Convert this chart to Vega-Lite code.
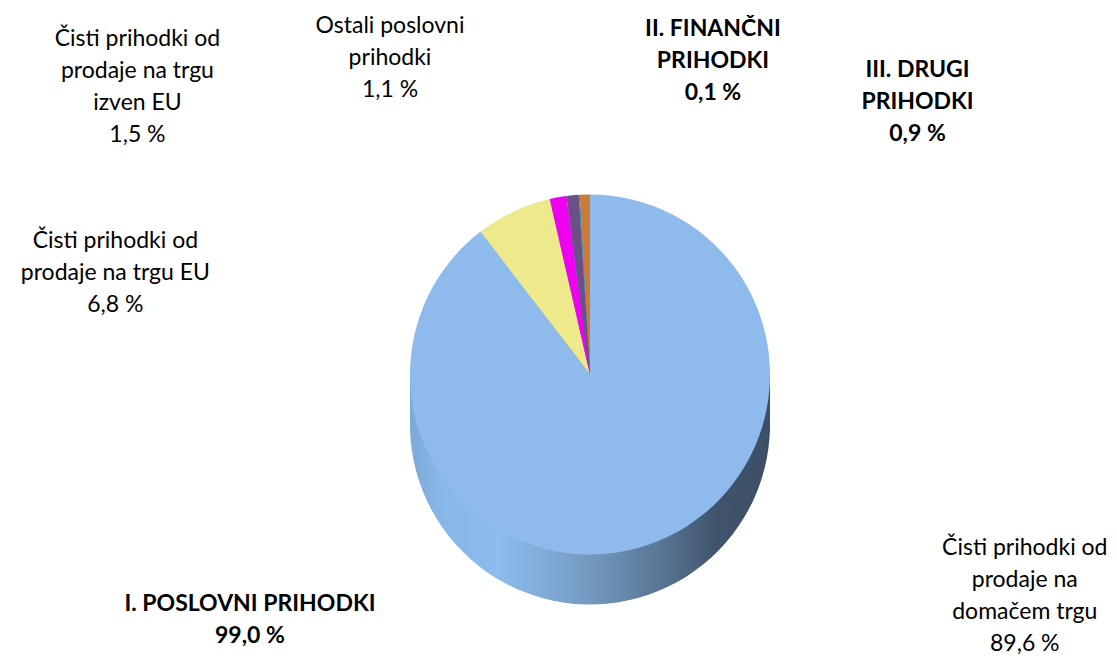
{
  "$schema": "https://vega.github.io/schema/vega-lite/v6.json",
  "width": 1117,
  "height": 656,
  "padding": 0,
  "autosize": {"type": "fit", "contains": "padding"},
  "background": "white",
  "config": {"view": {"stroke": null}, "font": "Lato"},
  "datasets": {
    "slices": [
      {"name": "Čisti prihodki od prodaje na domačem trgu", "value": 89.6, "idx": 1, "label": "Čisti prihodki od\nprodaje na\ndomačem trgu\n89,6 %"},
      {"name": "Čisti prihodki od prodaje na trgu EU", "value": 6.8, "idx": 2, "label": "Čisti prihodki od\nprodaje na trgu EU\n6,8 %"},
      {"name": "Čisti prihodki od prodaje na trgu izven EU", "value": 1.5, "idx": 3, "label": "Čisti prihodki od\nprodaje na trgu\nizven EU\n1,5 %"},
      {"name": "Ostali poslovni prihodki", "value": 1.1, "idx": 4, "label": "Ostali poslovni\nprihodki\n1,1 %"},
      {"name": "II. FINANČNI PRIHODKI", "value": 0.1, "idx": 5, "label": "II. FINANČNI\nPRIHODKI\n0,1 %"},
      {"name": "III. DRUGI PRIHODKI", "value": 0.9, "idx": 6, "label": "III. DRUGI\nPRIHODKI\n0,9 %"}
    ],
    "groups": [
      {"group": "I. POSLOVNI PRIHODKI", "value": 99.0, "idx": 1, "label": "I. POSLOVNI PRIHODKI\n99,0 %"},
      {"group": "II. FINANČNI PRIHODKI", "value": 0.1, "idx": 2, "label": "II. FINANČNI\nPRIHODKI\n0,1 %"},
      {"group": "III. DRUGI PRIHODKI", "value": 0.9, "idx": 3, "label": "III. DRUGI\nPRIHODKI\n0,9 %"}
    ]
  },
  "layer": [
    {
      "data": {"name": "slices"},
      "mark": {"type": "arc", "radius": 180, "xOffset": 31.5, "yOffset": 97, "stroke": null,
        "fill": {"gradient": "linear", "x1": 0, "x2": 1, "y1": 0, "y2": 0,
          "stops": [{"offset": 0, "color": "#7CAAD6"}, {"offset": 0.08, "color": "#88B7E7"}, {"offset": 0.25, "color": "#8CBCEC"}, {"offset": 0.5, "color": "#7399C0"}, {"offset": 0.7, "color": "#587593"}, {"offset": 0.85, "color": "#40546C"}, {"offset": 1, "color": "#3C4F66"}]}},
      "encoding": {"theta": {"field": "value", "type": "quantitative", "stack": true}, "order": {"field": "idx"}, "detail": {"field": "name"}}
    },
    {
      "data": {"name": "slices"},
      "mark": {"type": "arc", "radius": 180, "xOffset": 31.5, "yOffset": 87, "stroke": null,
        "fill": {"gradient": "linear", "x1": 0, "x2": 1, "y1": 0, "y2": 0,
          "stops": [{"offset": 0, "color": "#7CAAD6"}, {"offset": 0.08, "color": "#88B7E7"}, {"offset": 0.25, "color": "#8CBCEC"}, {"offset": 0.5, "color": "#7399C0"}, {"offset": 0.7, "color": "#587593"}, {"offset": 0.85, "color": "#40546C"}, {"offset": 1, "color": "#3C4F66"}]}},
      "encoding": {"theta": {"field": "value", "type": "quantitative", "stack": true}, "order": {"field": "idx"}, "detail": {"field": "name"}}
    },
    {
      "data": {"name": "slices"},
      "mark": {"type": "arc", "radius": 180, "xOffset": 31.5, "yOffset": 77, "stroke": null,
        "fill": {"gradient": "linear", "x1": 0, "x2": 1, "y1": 0, "y2": 0,
          "stops": [{"offset": 0, "color": "#7CAAD6"}, {"offset": 0.08, "color": "#88B7E7"}, {"offset": 0.25, "color": "#8CBCEC"}, {"offset": 0.5, "color": "#7399C0"}, {"offset": 0.7, "color": "#587593"}, {"offset": 0.85, "color": "#40546C"}, {"offset": 1, "color": "#3C4F66"}]}},
      "encoding": {"theta": {"field": "value", "type": "quantitative", "stack": true}, "order": {"field": "idx"}, "detail": {"field": "name"}}
    },
    {
      "data": {"name": "slices"},
      "mark": {"type": "arc", "radius": 180, "xOffset": 31.5, "yOffset": 67, "stroke": null,
        "fill": {"gradient": "linear", "x1": 0, "x2": 1, "y1": 0, "y2": 0,
          "stops": [{"offset": 0, "color": "#7CAAD6"}, {"offset": 0.08, "color": "#88B7E7"}, {"offset": 0.25, "color": "#8CBCEC"}, {"offset": 0.5, "color": "#7399C0"}, {"offset": 0.7, "color": "#587593"}, {"offset": 0.85, "color": "#40546C"}, {"offset": 1, "color": "#3C4F66"}]}},
      "encoding": {"theta": {"field": "value", "type": "quantitative", "stack": true}, "order": {"field": "idx"}, "detail": {"field": "name"}}
    },
    {
      "data": {"name": "slices"},
      "mark": {"type": "arc", "radius": 180, "xOffset": 31.5, "yOffset": 57, "stroke": null,
        "fill": {"gradient": "linear", "x1": 0, "x2": 1, "y1": 0, "y2": 0,
          "stops": [{"offset": 0, "color": "#7CAAD6"}, {"offset": 0.08, "color": "#88B7E7"}, {"offset": 0.25, "color": "#8CBCEC"}, {"offset": 0.5, "color": "#7399C0"}, {"offset": 0.7, "color": "#587593"}, {"offset": 0.85, "color": "#40546C"}, {"offset": 1, "color": "#3C4F66"}]}},
      "encoding": {"theta": {"field": "value", "type": "quantitative", "stack": true}, "order": {"field": "idx"}, "detail": {"field": "name"}}
    },
    {
      "data": {"name": "slices"},
      "mark": {"type": "arc", "radius": 180, "xOffset": 31.5, "yOffset": 47, "stroke": null},
      "encoding": {
        "theta": {"field": "value", "type": "quantitative", "stack": true},
        "order": {"field": "idx"},
        "color": {"field": "name", "type": "nominal", "legend": null,
          "scale": {"domain": ["Čisti prihodki od prodaje na domačem trgu", "Čisti prihodki od prodaje na trgu EU", "Čisti prihodki od prodaje na trgu izven EU", "Ostali poslovni prihodki", "II. FINANČNI PRIHODKI", "III. DRUGI PRIHODKI"],
            "range": ["#8EBBEB", "#EEEA8C", "#F000F0", "#6B5087", "#2E8FA0", "#CC7A3A"]}}
      }
    },
    {
      "data": {"name": "slices"},
      "mark": {"type": "text", "radius": 180, "xOffset": 31.5, "yOffset": 47, "dx": 377, "dy": -7.5, "align": "center", "baseline": "top", "lineBreak": "\n", "lineHeight": 32, "fontSize": 23, "font": "Lato", "color": "#000000"},
      "encoding": {"theta": {"field": "value", "type": "quantitative", "stack": true}, "order": {"field": "idx"}, "detail": {"field": "name"},
        "text": {"condition": {"test": "datum.idx === 1", "field": "label"}, "value": ""}}
    },
    {
      "data": {"name": "slices"},
      "mark": {"type": "text", "radius": 180, "xOffset": 31.5, "yOffset": 47, "dx": -398, "dy": 18, "align": "center", "baseline": "top", "lineBreak": "\n", "lineHeight": 32, "fontSize": 23, "font": "Lato", "color": "#000000"},
      "encoding": {"theta": {"field": "value", "type": "quantitative", "stack": true}, "order": {"field": "idx"}, "detail": {"field": "name"},
        "text": {"condition": {"test": "datum.idx === 2", "field": "label"}, "value": ""}}
    },
    {
      "data": {"name": "slices"},
      "mark": {"type": "text", "radius": 180, "xOffset": 31.5, "yOffset": 47, "dx": -420.5, "dy": -169.5, "align": "center", "baseline": "top", "lineBreak": "\n", "lineHeight": 32, "fontSize": 23, "font": "Lato", "color": "#000000"},
      "encoding": {"theta": {"field": "value", "type": "quantitative", "stack": true}, "order": {"field": "idx"}, "detail": {"field": "name"},
        "text": {"condition": {"test": "datum.idx === 3", "field": "label"}, "value": ""}}
    },
    {
      "data": {"name": "slices"},
      "mark": {"type": "text", "radius": 180, "xOffset": 31.5, "yOffset": 47, "dx": -182.5, "dy": -180.8, "align": "center", "baseline": "top", "lineBreak": "\n", "lineHeight": 32, "fontSize": 23, "font": "Lato", "color": "#000000"},
      "encoding": {"theta": {"field": "value", "type": "quantitative", "stack": true}, "order": {"field": "idx"}, "detail": {"field": "name"},
        "text": {"condition": {"test": "datum.idx === 4", "field": "label"}, "value": ""}}
    },
    {
      "data": {"name": "groups"},
      "mark": {"type": "text", "radius": 180, "xOffset": 31.5, "yOffset": 47, "dx": -345.7, "dy": 39, "align": "center", "baseline": "top", "lineBreak": "\n", "lineHeight": 32, "fontSize": 23, "fontWeight": "bold", "font": "Lato", "color": "#000000"},
      "encoding": {"theta": {"field": "value", "type": "quantitative", "stack": true}, "order": {"field": "idx"}, "detail": {"field": "group"},
        "text": {"condition": {"test": "datum.idx === 1", "field": "label"}, "value": ""}}
    },
    {
      "data": {"name": "groups"},
      "mark": {"type": "text", "radius": 180, "xOffset": 31.5, "yOffset": 47, "dx": 133.7, "dy": -177.3, "align": "center", "baseline": "top", "lineBreak": "\n", "lineHeight": 32, "fontSize": 23, "fontWeight": "bold", "font": "Lato", "color": "#000000"},
      "encoding": {"theta": {"field": "value", "type": "quantitative", "stack": true}, "order": {"field": "idx"}, "detail": {"field": "group"},
        "text": {"condition": {"test": "datum.idx === 2", "field": "label"}, "value": ""}}
    },
    {
      "data": {"name": "groups"},
      "mark": {"type": "text", "radius": 180, "xOffset": 31.5, "yOffset": 47, "dx": 332.6, "dy": -135.1, "align": "center", "baseline": "top", "lineBreak": "\n", "lineHeight": 32, "fontSize": 23, "fontWeight": "bold", "font": "Lato", "color": "#000000"},
      "encoding": {"theta": {"field": "value", "type": "quantitative", "stack": true}, "order": {"field": "idx"}, "detail": {"field": "group"},
        "text": {"condition": {"test": "datum.idx === 3", "field": "label"}, "value": ""}}
    }
  ]
}
